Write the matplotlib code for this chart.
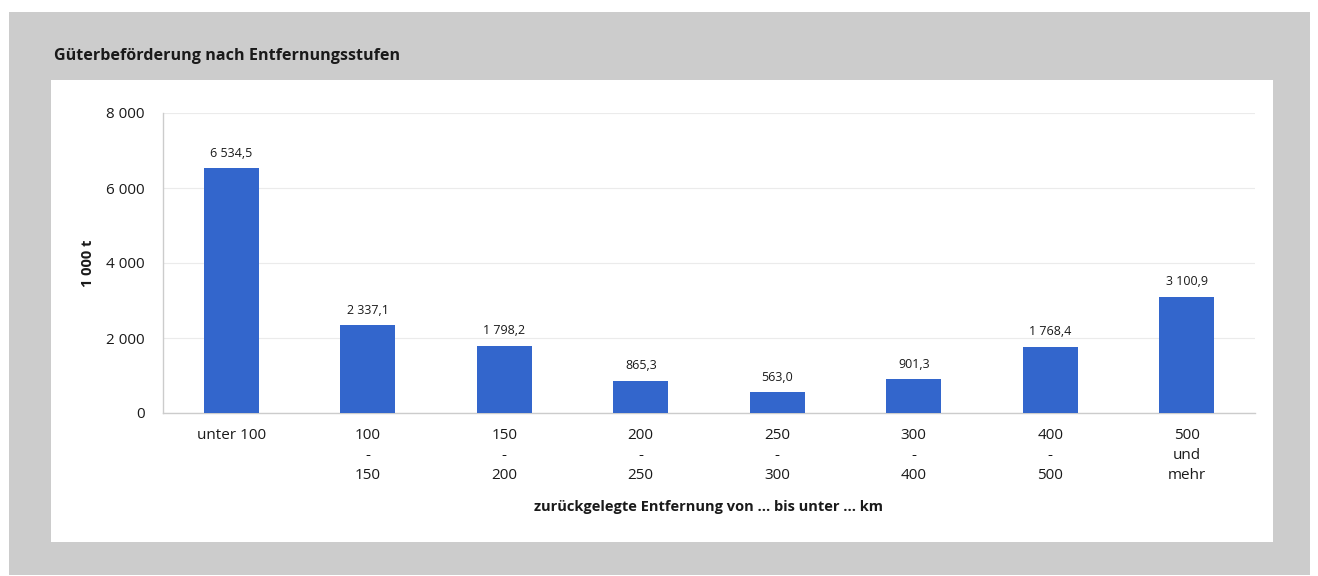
import matplotlib
matplotlib.use("Agg")
from matplotlib import pyplot as plt
import matplotlib.patches as mpatches
import matplotlib.ticker as mtick

categories = ["unter 100", "100\n-\n150", "150\n-\n200", "200\n-\n250",
              "250\n-\n300", "300\n-\n400", "400\n-\n500", "500\nund\nmehr"]
values = [6534.5, 2337.1, 1798.2, 865.3, 563.0, 901.3, 1768.4, 3100.9]
y_ticks = [0, 2000, 4000, 6000, 8000]

title = "Güterbeförderung nach Entfernungsstufen"
x_label = "zurückgelegte Entfernung von ... bis unter ... km"
y_label = "1 000 t"


def de_number(v, decimals=0):
    s = "{:,.{d}f}".format(v, d=decimals)
    return s.replace(",", " ").replace(".", ",")


plt.rcParams['font.family'] = ['Open Sans', 'DejaVu Sans']

W, H = 1318, 576
fig = plt.figure(figsize=(W / 100, H / 100), dpi=100)
fig.patch.set_facecolor("white")

# grey frame and white chart panel
fig.patches.append(mpatches.Rectangle((9 / W, 1 / H), 1301 / W, 563 / H,
                                      transform=fig.transFigure, facecolor="#cccccc",
                                      edgecolor="none", zorder=-2))
fig.patches.append(mpatches.Rectangle((51 / W, 34 / H), 1222 / W, 462 / H,
                                      transform=fig.transFigure, facecolor="white",
                                      edgecolor="none", zorder=-1))

fig.text(54 / W, 1 - 56 / H, title, fontsize=11.6, fontweight="bold",
         color="#1a1a1a", va="center", ha="left")

ax = fig.add_axes([163 / W, 1 - 413 / H, 1092 / W, 300 / H])
ax.set_facecolor("none")

x = range(len(categories))
bars = ax.bar(x, values, width=0.4, color="#3366cc", zorder=3)
for b, v in zip(bars, values):
    ax.annotate(de_number(v, 1), (b.get_x() + b.get_width() / 2, v),
                xytext=(0, 6), textcoords="offset points",
                ha="center", va="bottom", fontsize=9, color="#1a1a1a")

ax.set_xlim(-0.5, len(categories) - 0.5)
ax.set_ylim(0, 8000)
ax.set_yticks(y_ticks)
ax.yaxis.set_major_formatter(mtick.FuncFormatter(lambda v, p: de_number(v)))
ax.set_xticks(list(x))
ax.set_xticklabels(categories, linespacing=1.45)
ax.tick_params(axis="both", length=0, labelsize=11, colors="#1a1a1a")
ax.tick_params(axis="x", pad=11)
ax.tick_params(axis="y", pad=13)

ax.grid(axis="y", color="#ebebeb", linewidth=0.8, zorder=0)
for side in ["top", "right"]:
    ax.spines[side].set_visible(False)
for side in ["left", "bottom"]:
    ax.spines[side].set_color("#cccccc")
    ax.spines[side].set_linewidth(1)

ax.set_xlabel(x_label, fontsize=10.5, fontweight="bold", color="#1a1a1a", labelpad=12)
ax.set_ylabel(y_label, fontsize=10.5, fontweight="bold", color="#1a1a1a", labelpad=8)

fig.savefig("out.png", dpi=100)
